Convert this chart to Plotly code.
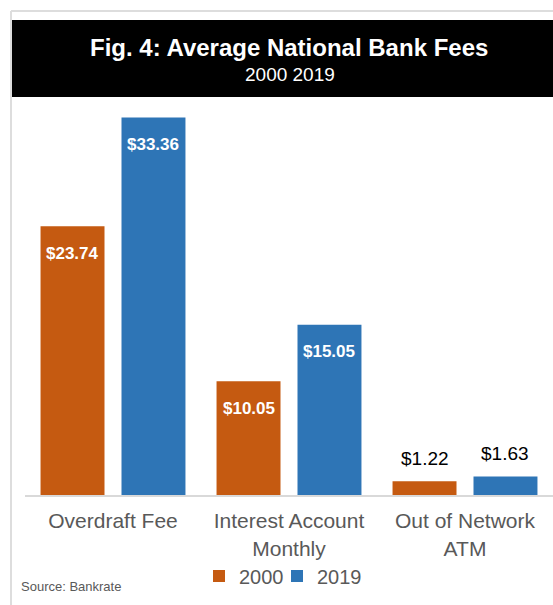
import plotly.graph_objects as go

categories = ["Overdraft Fee", "Interest Account<br>Monthly", "Out of Network<br>ATM"]
fees_2000 = [23.74, 10.05, 1.22]
fees_2019 = [33.36, 15.05, 1.63]
series_names = ["2000", "2019"]

W, H = 553, 605
ML, MR, MT, MB = 25, 0, 100, 110
BARGAP = 0.08
ORANGE = "#C55A11"
BLUE = "#2E75B6"
GRAY = "#595959"
ARIAL = "Liberation Sans, Arial, sans-serif"


def px(x):
    return (x - ML) / (W - ML - MR)


def py(y):
    return (H - MB - y) / (H - MT - MB)


fig = go.Figure()
fig.add_trace(go.Bar(x=categories, y=fees_2000, name=series_names[0], legend="legend",
                     marker=dict(color=ORANGE, line=dict(width=0))))
fig.add_trace(go.Bar(x=categories, y=fees_2019, name=series_names[1], legend="legend2",
                     marker=dict(color=BLUE, line=dict(width=0))))

# value labels: white inside for big bars, black above for small ones
half = (1 - BARGAP) / 4
annotations = []
for values, shift in [(fees_2000, -half), (fees_2019, half)]:
    for i, v in enumerate(values):
        label = "$%.2f" % v
        if v > 5:
            annotations.append(dict(x=i + shift, y=v, xref="x", yref="y", text="<b>%s</b>" % label,
                                    showarrow=False, yanchor="middle", yshift=-27,
                                    font=dict(family=ARIAL, size=17, color="white")))
        else:
            annotations.append(dict(x=i + shift, y=v, xref="x", yref="y", text=label,
                                    showarrow=False, yanchor="middle", yshift=23,
                                    font=dict(family=ARIAL, size=19, color="black")))

annotations.append(dict(x=px(289), y=py(48), xref="paper", yref="paper",
                        text="<b>Fig. 4: Average National Bank Fees</b>", showarrow=False,
                        xanchor="center", yanchor="middle",
                        font=dict(family=ARIAL, size=24, color="white")))
annotations.append(dict(x=px(290), y=py(74), xref="paper", yref="paper",
                        text="2000 2019", showarrow=False, xanchor="center", yanchor="middle",
                        font=dict(family=ARIAL, size=19, color="white")))
annotations.append(dict(x=px(19), y=py(586), xref="paper", yref="paper",
                        text="Source: Bankrate", showarrow=False, xanchor="left", yanchor="middle",
                        font=dict(family=ARIAL, size=13, color=GRAY)))

shapes = [
    dict(type="rect", xref="paper", yref="paper", x0=px(11), x1=px(570), y0=py(97), y1=py(20),
         fillcolor="black", line=dict(width=0), layer="below"),
    dict(type="line", xref="paper", yref="paper", x0=px(11), x1=px(570), y0=py(11), y1=py(11),
         line=dict(color="#DDDDDD", width=2)),
    dict(type="line", xref="paper", yref="paper", x0=px(11), x1=px(11), y0=py(11), y1=py(610),
         line=dict(color="#DDDDDD", width=2)),
]

legend_style = dict(orientation="h", yanchor="middle", xanchor="left", itemwidth=30,
                    font=dict(size=20, color=GRAY), bgcolor="rgba(0,0,0,0)")

fig.update_layout(
    width=W, height=H,
    autosize=False,
    margin=dict(l=ML, r=MR, t=MT, b=MB),
    paper_bgcolor="white",
    plot_bgcolor="white",
    barmode="group",
    bargap=BARGAP,
    bargroupgap=0.21,
    font=dict(family=ARIAL, size=20, color=GRAY),
    annotations=annotations,
    shapes=shapes,
    legend=dict(x=px(199), y=py(576), **legend_style),
    legend2=dict(x=px(277), y=py(576), **legend_style),
    showlegend=True,
)
fig.update_xaxes(showline=True, linecolor="#D9D9D9", linewidth=2, ticks="",
                 tickfont=dict(size=21, color=GRAY), ticklabelstandoff=6, fixedrange=True)
fig.update_yaxes(range=[0, 34.9], visible=False, showgrid=False, zeroline=False, fixedrange=True)

# the page's default body margin would shift the whole figure by 8px
fig.write_html("out.html", config=dict(displayModeBar=False),
               post_script="document.body.style.margin='0';")
